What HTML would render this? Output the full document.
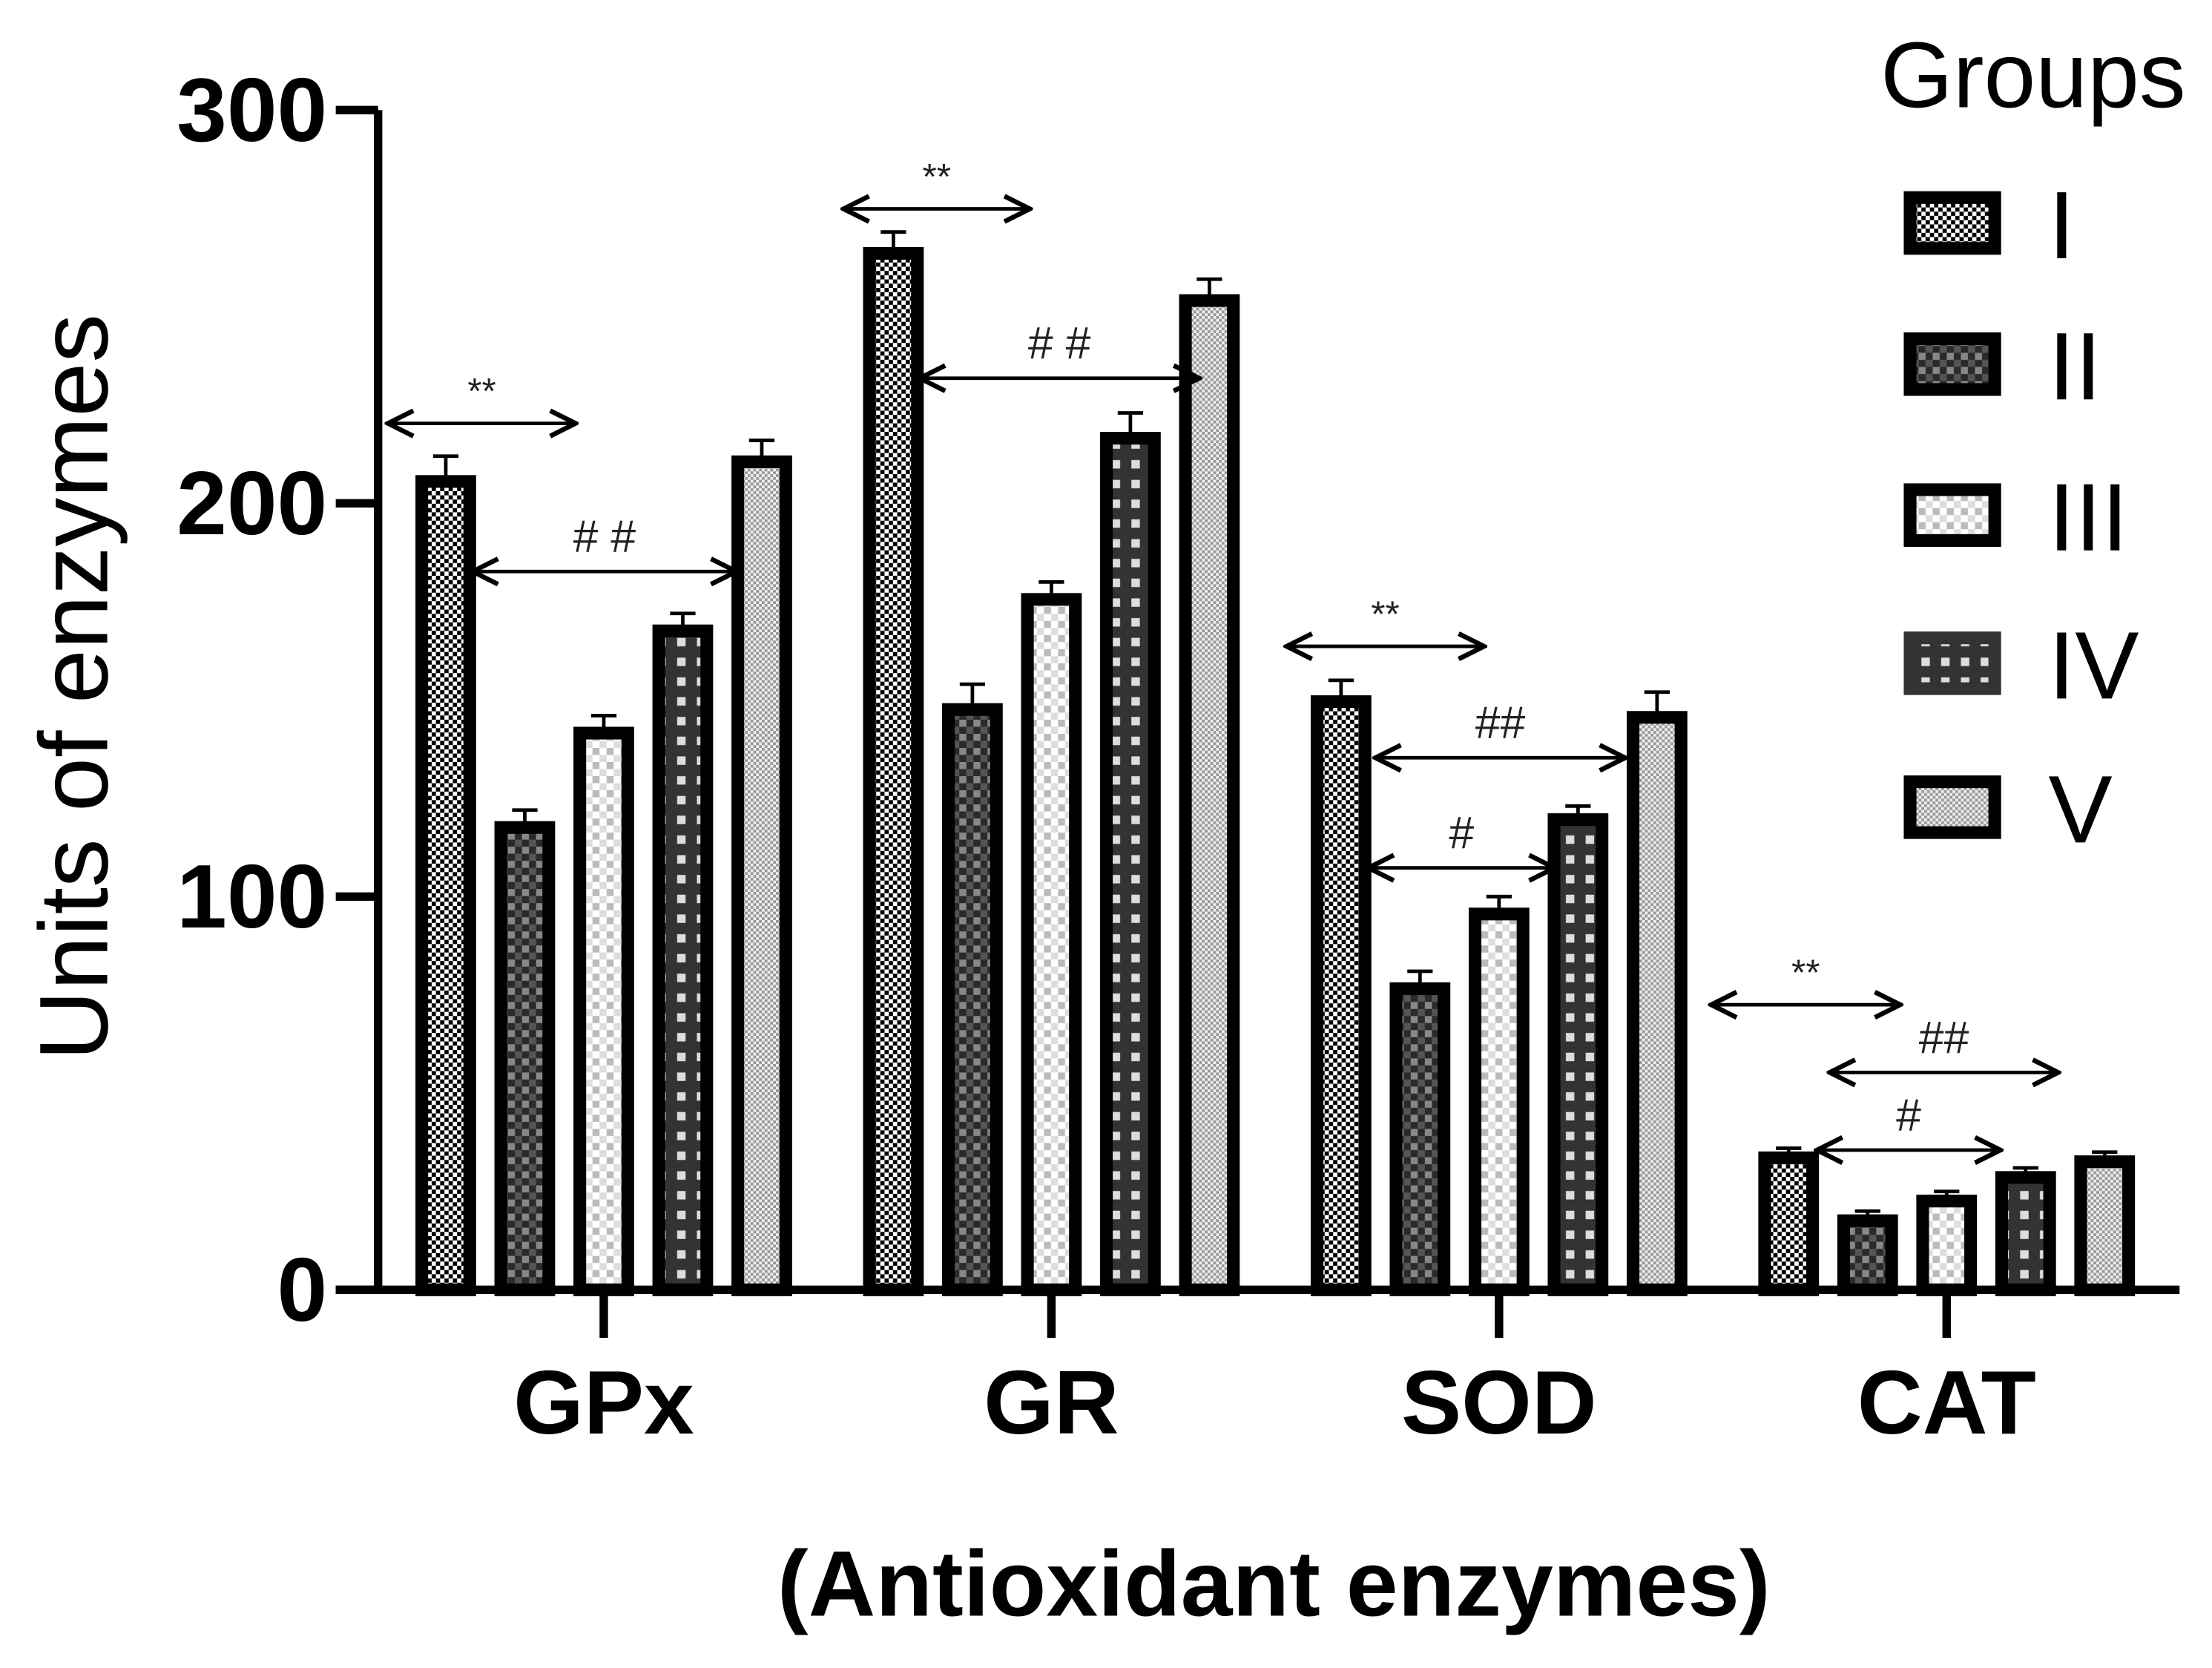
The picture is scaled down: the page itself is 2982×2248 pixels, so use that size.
<!DOCTYPE html>
<html><head><meta charset="utf-8"><style>
html,body{margin:0;padding:0;background:#fff;}
svg{display:block;}
text{font-family:"Liberation Sans",sans-serif;}
</style></head><body>
<svg id="chart" width="2982" height="2248" viewBox="0 0 1568 1182" xmlns="http://www.w3.org/2000/svg">
<defs>
<pattern id="p0" width="6" height="6" patternUnits="userSpaceOnUse"><rect width="6" height="6" fill="#000"/><rect x="0" y="0" width="3" height="3" fill="#fff"/><rect x="3" y="3" width="3" height="3" fill="#fff"/></pattern>
<pattern id="p1" width="10" height="10" patternUnits="userSpaceOnUse"><rect width="10" height="10" fill="#2a2a2a"/><rect x="0" y="0" width="5" height="5" fill="#888"/><rect x="5" y="5" width="5" height="5" fill="#555"/></pattern>
<pattern id="p2" width="10" height="10" patternUnits="userSpaceOnUse"><rect width="10" height="10" fill="#fff"/><rect x="0" y="0" width="5" height="5" fill="#bbb"/><rect x="5" y="5" width="5" height="5" fill="#ddd"/></pattern>
<pattern id="p3" width="14" height="14" patternUnits="userSpaceOnUse"><rect width="14" height="14" fill="#333"/><rect x="4" y="4" width="6" height="6" fill="#ddd"/></pattern>
<pattern id="p4" width="4" height="4" patternUnits="userSpaceOnUse"><rect width="4" height="4" fill="#999"/><rect x="0" y="0" width="2" height="2" fill="#eee"/><rect x="2" y="2" width="2" height="2" fill="#eee"/></pattern>
<marker id="ah" viewBox="0 0 10 10" refX="9" refY="5" markerWidth="9" markerHeight="9" orient="auto-start-reverse"><path d="M1,1 L9,5 L1,9" fill="none" stroke="#000" stroke-width="1.5"/></marker>
</defs>
<g id="marks"></g>
<g id="axes"></g>
</svg>
<script>
const categories = ["GPx","GR","SOD","CAT"];
const groups = ["I","II","III","IV","V"];
const valuesI   = [207, 265, 151, 35];
const valuesII  = [119, 149, 78, 19];
const valuesIII = [143, 177, 97, 24];
const valuesIV  = [169, 218, 121, 30];
const valuesV   = [212, 253, 147, 34];
const errors    = [[5,4,4,1],[3,5,3,1],[3,3,3,1],[3,5,2,1],[4,4,5,1]];
const yTicks = [0,100,200,300];
const series = [valuesI, valuesII, valuesIII, valuesIV, valuesV];

const NS = "http://www.w3.org/2000/svg";
const X0 = 268, Y0 = 914, YTOP = 78, YMAX = 300;
const y = v => Y0 - (v / YMAX) * (Y0 - YTOP);
const catX = i => 428 + i * 317.3;
const barX = (ci, gi) => catX(ci) + (gi - 2) * 56;
function el(tag, attrs, parent) {
  const e = document.createElementNS(NS, tag);
  for (const k in attrs) e.setAttribute(k, attrs[k]);
  parent.appendChild(e);
  return e;
}
const marks = document.getElementById("marks");
const axes = document.getElementById("axes");

series.forEach((vals, gi) => {
  vals.forEach((v, ci) => {
    const cx = barX(ci, gi), top = y(v);
    const eb = el("path", {d:`M${cx},${top} V${y(v+errors[gi][ci])} M${cx-9},${y(v+errors[gi][ci])} H${cx+9}`, stroke:"#000","stroke-width":2.5, fill:"none"}, marks);
    
    
    const r = el("rect", {x:cx-17, y:top+4, width:34, height:Y0-top-4, fill:`url(#p${gi})`, stroke:"#000","stroke-width":9}, marks);
    
    
  });
});

const ya = el("path", {d:`M${X0},${YTOP} V${Y0}`, stroke:"#000","stroke-width":6}, axes);


const xa = el("path", {d:`M238,${Y0} H1545`, stroke:"#000","stroke-width":6}, axes);


yTicks.forEach(t => {
  const tk = el("path", {d:`M238,${y(t)} H${X0}`, stroke:"#000","stroke-width":6}, axes);
  
  
  const lb = el("text", {x:232, y:y(t)+22, "text-anchor":"end","font-size":64,"font-weight":"bold"}, axes);
  lb.textContent = t;
  
  
});
categories.forEach((c, ci) => {
  const tk = el("path", {d:`M${catX(ci)},${Y0} V948`, stroke:"#000","stroke-width":6}, axes);
  
  
  const lb = el("text", {x:catX(ci), y:1016, "text-anchor":"middle","font-size":64,"font-weight":"bold"}, axes);
  lb.textContent = c;
  
  
});
const xt = el("text", {x:903, y:1145, "text-anchor":"middle","font-size":66,"font-weight":"bold"}, axes);
xt.textContent = "(Antioxidant enzymes)";


const yt = el("text", {x:0, y:0, "text-anchor":"middle","font-size":69, transform:"translate(76,487) rotate(-90)"}, axes);
yt.textContent = "Units of enzymes";



const annX1 = [275, 335, 598, 652, 912, 975, 970, 1213, 1297, 1288];
const annX2 = [408, 522, 730, 850, 1052, 1152, 1102, 1347, 1459, 1418];
const annY  = [300, 405, 148, 268, 458, 537, 615, 712, 760, 815];
const annT  = ["**","# #","**","# #","**","##","#","**","##","#"];
annT.forEach((t, i) => {
  const a = el("line", {x1:annX1[i], y1:annY[i], x2:annX2[i], y2:annY[i], stroke:"#000","stroke-width":2.5,"marker-start":"url(#ah)","marker-end":"url(#ah)"}, axes);
  
  
  const tx = el("text", {x:(annX1[i]+annX2[i])/2, y:annY[i]-14, "text-anchor":"middle","font-size":t.indexOf("*")>=0?26:32,"fill":"#222"}, axes);
  tx.textContent = t;
  
  
});

const lt = el("text", {x:1333, y:76, "font-size":66}, axes);
lt.textContent = "Groups";


const legY = [158, 258, 365, 470, 572];
groups.forEach((g, gi) => {
  const sw = el("rect", {x:1354, y:legY[gi]-18, width:60, height:36, fill:`url(#p${gi})`, stroke:gi===3?"#333":"#000","stroke-width":9}, axes);
  
  
  const lb = el("text", {x:1452, y:legY[gi]+25, "font-size":68}, axes);
  lb.textContent = g;
  
  
});
</script>
</body></html>
